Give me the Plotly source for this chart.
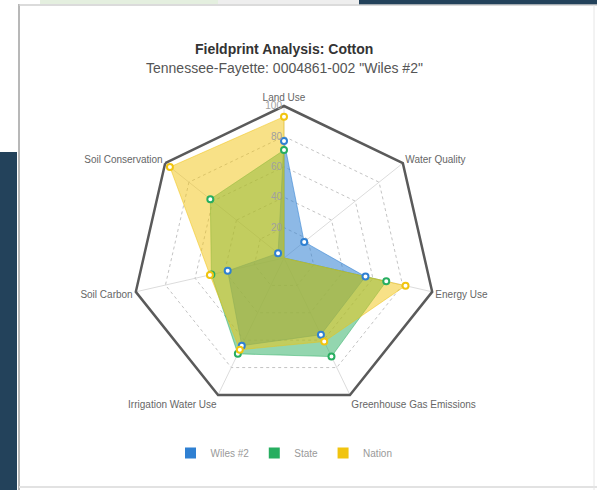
import plotly.graph_objects as go

categories = ["Land Use", "Water Quality", "Energy Use", "Greenhouse Gas Emissions",
              "Irrigation Water Use", "Soil Carbon", "Soil Conservation"]
wiles = [77, 17, 55, 56, 64, 38, 5]
state = [71, 0, 69, 72, 70, 49, 62]
nation = [93, 0, 82, 61, 67, 50, 96]

series_names = ["Wiles #2", "State", "Nation"]
series_values = [wiles, state, nation]
line_colors = ["rgb(47,128,210)", "rgb(39,174,96)", "rgb(241,196,15)"]
fill_colors = ["rgba(47,128,210,0.55)", "rgba(39,174,96,0.5)", "rgba(241,196,15,0.5)"]

radial_ticks = [0, 20, 40, 60, 80, 100]

fig = go.Figure()
# filled areas first
for name, vals, fc in zip(series_names, series_values, fill_colors):
    fig.add_trace(go.Scatterpolar(
        r=vals + vals[:1], theta=categories + categories[:1],
        mode="lines", fill="toself", fillcolor=fc,
        line=dict(color=fc, width=1),
        name=name, showlegend=False, hoverinfo="skip"))
# point markers on top
for name, vals, lc in zip(series_names, series_values, line_colors):
    fig.add_trace(go.Scatterpolar(
        r=vals, theta=categories, mode="markers",
        marker=dict(size=6, color="white", line=dict(color=lc, width=2)),
        name=name, showlegend=False, hoverinfo="r+theta+name"))
# legend entries (square swatches)
for name, lc in zip(series_names, line_colors):
    fig.add_trace(go.Scatterpolar(
        r=[None], theta=[categories[0]], mode="markers",
        marker=dict(symbol="square", size=11, color=lc),
        name=name, showlegend=True))

W, H = 597, 490
cx, cy, R = 284, 258, 152

shapes = [
    dict(type="rect", xref="paper", yref="paper", x0=0, x1=17/W, y0=0, y1=1-152/H,
         fillcolor="#23425b", line=dict(width=0), layer="below"),
    dict(type="rect", xref="paper", yref="paper", x0=359/W, x1=1, y0=1-5/H, y1=1,
         fillcolor="#23425b", line=dict(width=0), layer="below"),
    dict(type="rect", xref="paper", yref="paper", x0=40/W, x1=218/W, y0=1-4/H, y1=1,
         fillcolor="#e4efdf", line=dict(width=0), layer="below"),
    dict(type="rect", xref="paper", yref="paper", x0=218/W, x1=359/W, y0=1-4/H, y1=1,
         fillcolor="#eeeeee", line=dict(width=0), layer="below"),
    dict(type="line", xref="paper", yref="paper", x0=19/W, x1=19/W, y0=0, y1=1-4/H,
         line=dict(color="#b8b8b8", width=2), layer="below"),
    dict(type="line", xref="paper", yref="paper", x0=19/W, x1=1, y0=1-5/H, y1=1-5/H,
         line=dict(color="#cfcfcf", width=1.5), layer="below"),
    dict(type="line", xref="paper", yref="paper", x0=19/W, x1=1, y0=3/H, y1=3/H,
         line=dict(color="#e2e2e2", width=2), layer="below"),
    dict(type="line", xref="paper", yref="paper", x0=594/W, x1=594/W, y0=0, y1=1-5/H,
         line=dict(color="#e6e6e6", width=1), layer="below"),
]

annotations = [
    dict(text="<b>Fieldprint Analysis: Cotton</b>", xref="paper", yref="paper",
         x=cx/W, y=1-49/H, xanchor="center", yanchor="middle", showarrow=False,
         font=dict(family="Liberation Sans, Arial", size=14, color="#333333")),
    dict(text='Tennessee-Fayette: 0004861-002 "Wiles #2"', xref="paper", yref="paper",
         x=cx/W, y=1-68/H, xanchor="center", yanchor="middle", showarrow=False,
         font=dict(family="Liberation Sans, Arial", size=14, color="#555555")),
]

fig.update_layout(
    width=W, height=H, margin=dict(l=0, r=0, t=0, b=0),
    paper_bgcolor="white", plot_bgcolor="white",
    font=dict(family="Liberation Sans, Arial", color="#666666"),
    shapes=shapes, annotations=annotations,
    polar=dict(
        domain=dict(x=[(cx-R)/W, (cx+R)/W], y=[1-(cy+R)/H, 1-(cy-R)/H]),
        bgcolor="white",
        gridshape="linear",
        angularaxis=dict(rotation=90, direction="clockwise",
                         showline=True, linecolor="#5a5a5a", linewidth=2.5,
                         showgrid=True, gridcolor="#dcdcdc", gridwidth=1,
                         ticks="", tickfont=dict(size=10, color="#666666")),
        radialaxis=dict(range=[0, 100], tickvals=radial_ticks[1:], angle=90, tickangle=90,
                        side="counterclockwise", showline=False,
                        showgrid=True, gridcolor="#c4c4c4", griddash="dot", gridwidth=1,
                        ticks="", tickfont=dict(size=10, color="#a0a0a0")),
    ),
    legend=dict(orientation="h", x=cx/W, xanchor="center", y=1-453/H, yanchor="middle",
                font=dict(size=10, color="#999999"), itemwidth=30,
                bgcolor="rgba(0,0,0,0)"),
)

fig.write_html("out.html", config={"displayModeBar": False},
               post_script="document.body.style.margin='0px';document.body.style.overflow='hidden';")
